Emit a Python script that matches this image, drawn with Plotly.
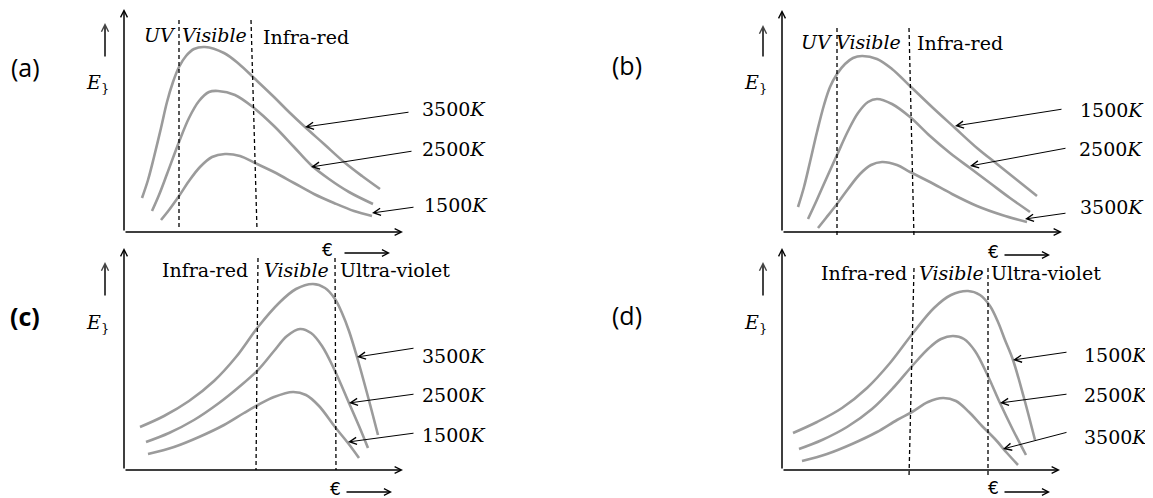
import plotly.graph_objects as go

# ---- curve data (arbitrary units: x ~ wavelength, y ~ E) ----
# panel (a)
A_TOP_X = [18, 24, 30, 37, 43, 49, 55, 62, 70, 81, 100, 115, 130, 150, 165, 181, 200, 220, 238, 256]
A_TOP_Y = [34, 52, 75, 104, 130, 150, 165, 176, 183, 185, 179, 168, 154, 135, 120, 105, 88, 70, 56, 43]
A_MID_X = [28, 35, 43, 55, 65, 75, 85, 94, 111, 130, 150, 170, 187, 205, 225, 249]
A_MID_Y = [21, 37, 58, 90, 114, 131, 140, 141, 137, 124, 106, 85, 67, 53, 40, 28]
A_LOW_X = [37, 45, 55, 65, 76, 88, 101, 116, 131, 150, 170, 190, 210, 230, 248]
A_LOW_Y = [12, 22, 36, 51, 65, 75, 78, 76, 69, 60, 49, 38, 29, 21, 16]
# panel (b)
B_TOP_X = [16, 22, 28, 35, 42, 48, 55, 63, 71, 80, 95, 110, 128, 150, 173, 195, 215, 235, 255]
B_TOP_Y = [25, 45, 70, 100, 127, 145, 158, 168, 174, 176, 173, 163, 146, 125, 104, 84, 68, 52, 36]
B_MID_X = [26, 33, 41, 55, 66, 76, 86, 95, 110, 128, 148, 168, 188, 208, 228, 248]
B_MID_Y = [13, 28, 46, 77, 101, 119, 130, 133, 128, 115, 96, 79, 64, 49, 34, 20]
B_LOW_X = [36, 44, 55, 66, 78, 89, 100, 115, 128, 148, 170, 195, 220, 245]
B_LOW_Y = [4, 14, 28, 43, 58, 67, 70, 67, 60, 50, 38, 26, 17, 10]
# panel (c)
C_TOP_X = [16, 40, 65, 90, 112, 134, 155, 172, 189, 201, 211, 218, 225, 233, 243, 254]
C_TOP_Y = [43, 54, 69, 89, 113, 143, 167, 181, 186, 182, 171, 157, 139, 113, 77, 35]
C_MID_X = [22, 45, 70, 95, 115, 134, 150, 163, 176, 187, 198, 211, 225, 235, 244]
C_MID_Y = [28, 37, 50, 67, 83, 100, 119, 134, 141, 137, 124, 99, 67, 44, 22]
C_LOW_X = [24, 50, 75, 100, 120, 134, 150, 169, 182, 195, 211, 224, 235]
C_LOW_Y = [16, 23, 33, 45, 57, 65, 73, 78, 75, 64, 43, 27, 12]
# panel (d)
D_TOP_X = [11, 35, 60, 85, 108, 131, 152, 169, 186, 198, 208, 216, 223, 231, 242, 253]
D_TOP_Y = [37, 48, 62, 82, 107, 137, 162, 175, 179, 175, 164, 148, 130, 110, 72, 30]
D_MID_X = [17, 40, 65, 90, 112, 131, 147, 159, 171, 182, 193, 205, 218, 231, 244]
D_MID_Y = [21, 30, 43, 61, 83, 105, 122, 131, 134, 131, 119, 96, 67, 40, 15]
D_LOW_X = [20, 45, 70, 95, 115, 130, 146, 161, 174, 187, 200, 213, 225, 236]
D_LOW_Y = [9, 16, 26, 38, 50, 58, 68, 72, 69, 58, 44, 31, 17, 5]

TEMPS_AC = ["3500", "2500", "1500"]
TEMPS_BD = ["1500", "2500", "3500"]
REGIONS_AB = ["<i>UV</i>", "<i>Visible</i>", "Infra-red"]
REGIONS_CD = ["Infra-red", "<i>Visible</i>", "Ultra-violet"]
TAGS = ["(a)", "(b)", "<b>(c)</b>", "(d)"]

W, H = 1153, 498
OFF = 8  # the page body adds an 8px margin around the figure
CURVE = "#9b9b9b"
SERIF = "DejaVu Serif"

# layout of each panel in page pixels (origin of its axes + box of the subplot)
PANELS = [
    dict(curves=[(A_TOP_X, A_TOP_Y), (A_MID_X, A_MID_Y), (A_LOW_X, A_LOW_Y)],
         temps=TEMPS_AC, regions=REGIONS_AB,
         ox=124, oy=232, box=(8, 560, 8, 262), xend=279, ytop=223,
         dashes=[(55, 212, 55, 2), (127, 212, 133, 2)],
         region_pos=[(36, 197), (90, 197), (182, 195)],
         tips=[(181, 105), (187, 65), (248, 19)],
         tails=[(286, 120), (289, 81), (291, 25)],
         label_pos=[(296, 123), (296, 83), (298, 27)],
         tag=(-99, 165), elab=(-27, 149), up=(-19, 174, 209),
         euro=(203, -18), earrow=(219, 266, -21)),
    dict(curves=[(B_TOP_X, B_TOP_Y), (B_MID_X, B_MID_Y), (B_LOW_X, B_LOW_Y)],
         temps=TEMPS_BD, regions=REGIONS_AB,
         ox=782, oy=232, box=(600, 1153, 8, 262), xend=280, ytop=222,
         dashes=[(55, 204, 55, -6), (127, 204, 132, -6)],
         region_pos=[(35, 190), (86, 190), (178, 189)],
         tips=[(173, 106), (188, 66), (243, 13)],
         tails=[(281, 123), (285, 84), (285, 19)],
         label_pos=[(296, 122), (295, 83), (296, 25)],
         tag=(-155, 167), elab=(-27, 149), up=(-19, 174, 207),
         euro=(211, -20), earrow=(221, 268, -23)),
    dict(curves=[(C_TOP_X, C_TOP_Y), (C_MID_X, C_MID_Y), (C_LOW_X, C_LOW_Y)],
         temps=TEMPS_AC, regions=REGIONS_CD,
         ox=124, oy=470, box=(8, 560, 236, 498), xend=279, ytop=222,
         dashes=[(134, 212, 132, 0), (211, 212, 212, 0)],
         region_pos=[(81, 200), (172, 200), (271, 200)],
         tips=[(233, 113), (225, 67), (224, 28)],
         tails=[(291, 122), (291, 76), (291, 37)],
         label_pos=[(296, 114), (296, 75), (296, 35)],
         tag=(-99, 154), elab=(-27, 147), up=(-19, 173, 208),
         euro=(211, -19), earrow=(221, 268, -22)),
    dict(curves=[(D_TOP_X, D_TOP_Y), (D_MID_X, D_MID_Y), (D_LOW_X, D_LOW_Y)],
         temps=TEMPS_BD, regions=REGIONS_CD,
         ox=782, oy=470, box=(600, 1153, 236, 498), xend=278, ytop=222,
         dashes=[(132, 202, 127, -7), (206, 202, 206, -7)],
         region_pos=[(82, 197), (169, 197), (264, 197)],
         tips=[(231, 110), (218, 67), (221, 21)],
         tails=[(286, 118), (286, 76), (286, 38)],
         label_pos=[(300, 115), (300, 75), (300, 33)],
         tag=(-155, 155), elab=(-27, 147), up=(-19, 173, 208),
         euro=(211, -18), earrow=(221, 268, -22)),
]

fig = go.Figure()
annotations = []
shapes = []
axes = {}


def arrow(xr, yr, head, tail, color="black", width=1, size=1.3):
    return dict(xref=xr, yref=yr, axref=xr, ayref=yr,
                x=head[0], y=head[1], ax=tail[0], ay=tail[1],
                text="", showarrow=True, arrowhead=5, arrowsize=size,
                arrowwidth=width, arrowcolor=color, standoff=0, startstandoff=0)


def text(xr, yr, x, y, s, size=19, family=SERIF, anchor="center"):
    return dict(xref=xr, yref=yr, x=x, y=y, text=s, showarrow=False,
                xanchor=anchor, yanchor="middle",
                font=dict(family=family, size=size, color="black"))


for i, p in enumerate(PANELS, start=1):
    sfx = "" if i == 1 else str(i)
    xr, yr = "x" + sfx, "y" + sfx
    l, r, t, b = p["box"]
    axes["xaxis" + sfx] = dict(domain=[(l - OFF) / W, (r - OFF) / W],
                               range=[l - p["ox"], r - p["ox"]],
                               visible=False, fixedrange=True, anchor=yr)
    axes["yaxis" + sfx] = dict(domain=[1 - (b - OFF) / H, 1 - (t - OFF) / H],
                               range=[p["oy"] - b, p["oy"] - t],
                               visible=False, fixedrange=True, anchor=xr)

    for cx, cy in p["curves"]:
        fig.add_trace(go.Scatter(x=cx, y=cy, mode="lines", xaxis=xr, yaxis=yr,
                                 line=dict(color=CURVE, width=2.6, shape="spline", smoothing=1),
                                 hoverinfo="skip", showlegend=False))

    # axes with arrow heads
    annotations.append(arrow(xr, yr, (p["xend"], 0), (0, 0), width=1.5, size=0.9))
    annotations.append(arrow(xr, yr, (0, p["ytop"]), (0, 0), width=1.5, size=0.9))

    for x0, y0, x1, y1 in p["dashes"]:
        shapes.append(dict(type="line", xref=xr, yref=yr, x0=x0, y0=y0, x1=x1, y1=y1,
                           line=dict(color="black", width=1.3, dash="4px,3px")))

    for s, (x, y) in zip(p["regions"], p["region_pos"]):
        annotations.append(text(xr, yr, x, y, s))

    for temp, tip, tail, (lx, ly) in zip(p["temps"], p["tips"], p["tails"], p["label_pos"]):
        annotations.append(arrow(xr, yr, tip, tail, width=1, size=1.4))
        annotations.append(text(xr, yr, lx, ly, temp + "<i>K</i>", anchor="left"))

    annotations.append(text(xr, yr, *p["tag"], TAGS[i - 1], size=25, family="Open Sans"))
    annotations.append(text(xr, yr, *p["elab"], "<i>E</i><sub>}</sub>", size=19))
    ux, u0, u1 = p["up"]
    annotations.append(arrow(xr, yr, (ux, u1), (ux, u0), color="#444", width=2, size=0.7))
    annotations.append(text(xr, yr, *p["euro"], "€", size=17, family="DejaVu Sans"))
    e0, e1, ey = p["earrow"]
    annotations.append(arrow(xr, yr, (e1, ey), (e0, ey), width=1.3, size=1.0))

fig.update_layout(width=W, height=H, margin=dict(l=0, r=0, t=0, b=0),
                  paper_bgcolor="white", plot_bgcolor="white", showlegend=False,
                  annotations=annotations, shapes=shapes, **axes)

fig.write_html("out.html")
